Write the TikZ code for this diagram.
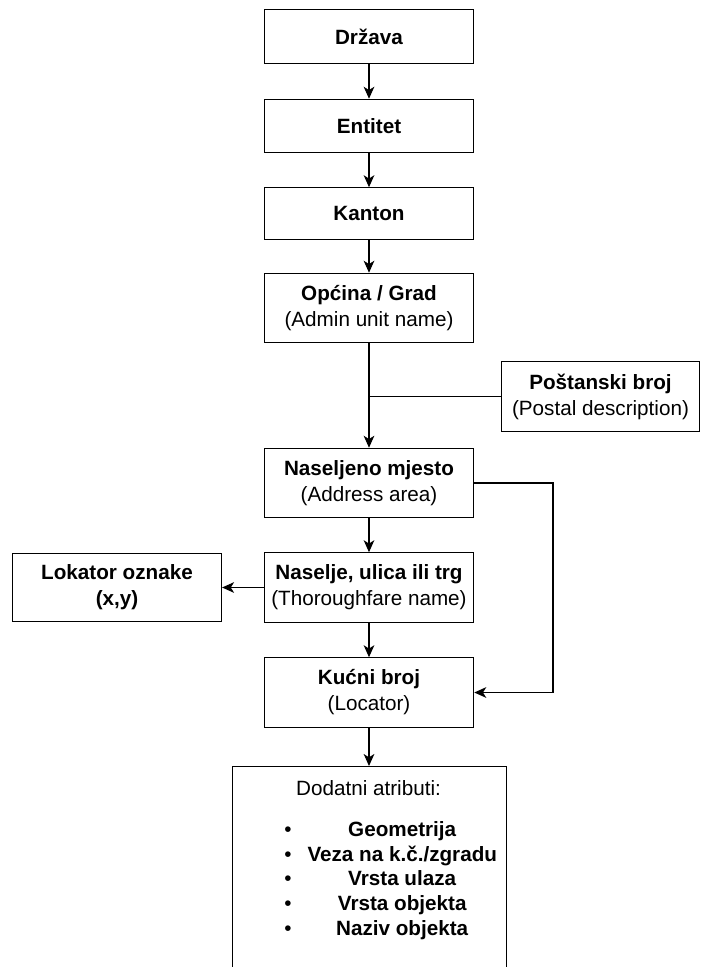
\documentclass[tikz,border=0pt]{standalone}
\usepackage{fontspec}
\setmainfont{Liberation Sans}
\usetikzlibrary{arrows.meta}
\begin{document}
\begin{tikzpicture}[x=0.75pt,y=0.75pt,yscale=-1,xscale=1,
    box/.style={draw, line width=0.9pt, minimum width=157pt, minimum height=40pt, align=center, inner sep=0pt,
        font=\fontsize{15.5}{19.5}\selectfont},
    tallbox/.style={box, minimum height=52pt},
    arrow/.style={line width=0.9pt, -{Stealth[length=9pt,width=8pt,inset=2.5pt]}},
    link/.style={line width=0.9pt}]
\useasboundingbox (0,0) rectangle (703,967);
\clip (0,0) rectangle (703,967);
            %Shape: Rectangle
            \node [box] (drzava) at (369,36.5) {\textbf{Država}};
            %Shape: Rectangle
            \node [box] (entitet) at (369,126) {\textbf{Entitet}};
            %Shape: Rectangle
            \node [box, minimum height=38.5pt] (kanton) at (369,213.5) {\textbf{Kanton}};
            %Shape: Rectangle
            \node [tallbox] (opcina) at (369,308) {\textbf{Općina / Grad}\\(Admin unit name)};
            %Shape: Rectangle
            \node [tallbox, minimum width=148pt] (postanski) at (600.5,396.5) {\textbf{Poštanski broj}\\(Postal description)};
            %Shape: Rectangle
            \node [tallbox] (naseljeno) at (369,483) {\textbf{Naseljeno mjesto}\\(Address area)};
            %Shape: Rectangle
            \node [tallbox] (naselje) at (369,587.5) {\textbf{Naselje, ulica ili trg}\\(Thoroughfare name)};
            %Shape: Rectangle
            \node [tallbox, minimum width=156.75pt, minimum height=51pt] (lokator) at (117,587.5) {\textbf{Lokator oznake}\\\textbf{(x,y)}};
            %Shape: Rectangle
            \node [tallbox] (kucni) at (369,692.5) {\textbf{Kućni broj}\\(Locator)};
            %Shape: Rectangle
            \node [box, anchor=north, minimum width=205pt, minimum height=180pt] (atributi) at (369.5,766) {};

            % Text Node
            \node [font=\fontsize{15.5}{19.5}\selectfont, inner sep=0pt] (naslov) at (368.5,788) {Dodatni atributi:};
            % Text Node
            \node [anchor=west, inner sep=0pt, font=\fontsize{15.5}{18.6}\selectfont] (popis) at (284,881) {%
                \begin{tabular}{@{}c@{\hspace{12pt}}c@{}}
                \textbullet & \textbf{Geometrija}\\
                \textbullet & \textbf{Veza na k.č./zgradu}\\
                \textbullet & \textbf{Vrsta ulaza}\\
                \textbullet & \textbf{Vrsta objekta}\\
                \textbullet & \textbf{Naziv objekta}
                \end{tabular}};

            %Straight Lines
            \draw [arrow] (drzava) -- (entitet);
            \draw [arrow] (entitet) -- (kanton);
            \draw [arrow] (kanton) -- (opcina);
            \draw [arrow] (opcina) -- (naseljeno);
            \draw [link] (postanski.west) -- (postanski.west -| opcina.south);
            \draw [arrow] (naseljeno) -- (naselje);
            \draw [arrow] (naselje) -- (kucni);
            \draw [arrow] (naselje.west) -- (lokator.east);
            \draw [arrow] (kucni.south) -- (kucni.south |- atributi.north);
            % Bend to Kucni broj
            \coordinate (skret) at (553,483);
            \draw [arrow] (naseljeno.east) -- (skret) |- (kucni.east);
\end{tikzpicture}
\end{document}
